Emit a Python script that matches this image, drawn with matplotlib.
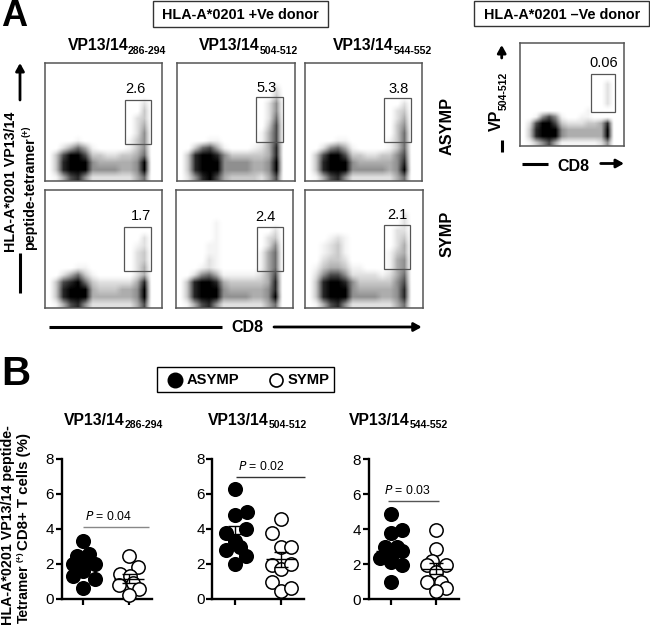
import matplotlib
matplotlib.use('Agg')
import matplotlib.pyplot as plt
import numpy as np
from matplotlib.colors import PowerNorm
from matplotlib.patches import Rectangle

plt.rcParams['font.family'] = ['Liberation Sans', 'DejaVu Sans']

W, H = 650, 628

# flow panels: darkness 0-9, 16 rows x 16 columns
flow_a1 = ["0000000000000000", "0000000000000000", "0000000000000000", "0000000000000000",
           "0000000000000000", "0000000000000200", "0000000000000300", "0000000000002300",
           "0000000000002400", "0000000000002500", "0000100000013500", "0024641000013500",
           "0379973322334600", "0389995444445900", "0389995555445900", "0147852222224600"]
flow_a2 = ["0000000000000000", "0000000000000000", "0000000000000000", "0000000000000200",
           "0000000000000300", "0000000000002500", "0000000000002500", "0000000000002600",
           "0000000000003700", "0000000000014700", "0000110000014700", "0036741000124800",
           "0389985333334800", "0389995555445900", "0389995555445900", "0258974333324700"]
flow_a3 = ["0000000000000000", "0000000000000000", "0000000000000000", "0000000000000000",
           "0000000000000000", "0000000000000200", "0000000000002300", "0000000000002400",
           "0000000000003500", "0000000000003600", "0000110000013600", "0025641000013600",
           "0379973322335700", "0389995444445800", "0389995555545900", "0147852222224600"]
flow_s1 = ["0000000000000000", "0000000000000000", "0000000000000000", "0000000000000000",
           "0000000000000000", "0000000000000000", "0000000000000200", "0000000000001200",
           "0000000000002300", "0000000000002300", "0000110000002400", "0024631000002400",
           "0378963222224800", "0389994333445900", "0389994444445900", "0147852222224700"]
flow_s2 = ["0000000000000000", "0000000000000000", "0000000000000000", "0000000000000000",
           "0000010000000000", "0000010000000200", "0000010000002300", "0000110000002500",
           "0000110000014600", "0000210000014600", "0001210000014600", "0025641111124700",
           "0389984333334800", "0389995444445800", "0389995555445900", "0147852222224600"]
flow_s3 = ["0000000000000000", "0000000000000000", "0000000000000000", "0000000000000200",
           "0000000000000200", "0000000000002200", "0001210000002300", "0012310000002400",
           "0012310000013400", "0023320000014500", "0134431100014500", "0257752222124600",
           "0389985333335700", "0389995444445800", "0389995555445800", "0147852222224600"]
flow_neg = ["0000000000000000", "0000000000000000", "0000000000000000", "0000000000000000",
            "0000000000000000", "0000000000000000", "0000000000000200", "0000000000000200",
            "0000000000000200", "0000000000000200", "0000000000100000", "0015751001100000",
            "0279973222334800", "0389995444444900", "0389995444444900", "0135741111112500"]

flow_titles = ['286-294', '504-512', '544-552']
flow_values = ['2.6', '5.3', '3.8', '1.7', '2.4', '2.1', '0.06']
row_labels = ['ASYMP', 'SYMP']

# panel B, x offset from the group tick and % value
asymp_x = [[0, -.13, .13, -.23, 0, .25, 0, -.22, .25, 0],
           [.01, 0, .25, .24, -.2, .01, .11, .24, -.2, .01],
           [0, .24, 0, -.13, .13, .24, -.24, 0, 0, .24, 0]]
asymp_y = [[3.27, 2.43, 2.58, 1.99, 2.0, 2.0, 1.6, 1.3, 1.1, .6],
           [6.26, 4.78, 4.98, 3.98, 3.77, 3.29, 2.97, 2.43, 2.78, 1.97],
           [4.9, 3.98, 3.79, 3.0, 3.0, 2.76, 2.38, 2.44, 2.11, 1.96, 1.01]]
symp_x = [[0, .2, -.2, .02, -.22, .09, .22, -.01],
          [.01, -.2, .01, .21, -.2, .01, .21, -.2, .01, .21],
          [0, 0, -.1, -.21, .21, 0, -.21, .1, .21, -.01]]
symp_y = [[2.45, 1.78, 1.4, 1.3, .8, .9, .52, .19],
          [4.56, 3.75, 2.97, 2.97, 1.91, 1.72, 1.95, .96, .44, .63],
          [3.98, 2.9, 2.19, 1.98, 1.98, 1.54, .99, .99, .65, .48]]
asymp_mean = [2.0, 3.7, 2.75]
asymp_sem = [.25, .48, .3]
symp_mean = [1.13, 2.25, 1.75]
symp_sem = [.25, .42, .3]
p_values = ['0.04', '0.02', '0.03']
yticks = [0, 2, 4, 6, 8]


def axes_px(fig, x0, y0, x1, y1, **kw):
    # axes from pixel box, y counted from the top
    return fig.add_axes([x0 / W, 1 - y1 / H, (x1 - x0) / W, (y1 - y0) / H], **kw)


def flow_panel(fig, box, rows):
    ax = axes_px(fig, *box)
    grid = np.array([[int(c) for c in r] for r in rows])
    ax.imshow(grid, cmap='gray_r', norm=PowerNorm(1.4, vmin=0, vmax=9), aspect='auto', interpolation='bilinear')
    ax.set_xticks([])
    ax.set_yticks([])
    for s in ax.spines.values():
        s.set_color('#555555')
        s.set_linewidth(1.1)
    return ax


fig = plt.figure(figsize=(W / 100, H / 100), dpi=100)

# overlay in pixels for the labels, boxes and arrows
ov = fig.add_axes([0, 0, 1, 1], zorder=5)
ov.set_xlim(0, W)
ov.set_ylim(H, 0)
ov.axis('off')
ov.patch.set_alpha(0)


def box(x0, y0, x1, y1, color='#333333', lw=1.0):
    ov.add_patch(Rectangle((x0, y0), x1 - x0, y1 - y0, fill=False, ec=color, lw=lw))


def line(x0, y0, x1, y1, lw=2.2, color='black'):
    ov.plot([x0, x1], [y0, y1], color=color, lw=lw, solid_capstyle='butt')


def arrow(x0, y0, x1, y1, lw=2.0):
    ov.annotate('', xy=(x1, y1), xytext=(x0, y0),
                arrowprops=dict(arrowstyle='-|>,head_width=0.25,head_length=0.45', color='black',
                                lw=lw, shrinkA=0, shrinkB=0))


def title(x, y, sub):
    ov.text(x, y, 'VP13/14', fontsize=11.3, fontweight='bold', va='center', ha='left')
    ov.text(x + 60, y + 5, sub, fontsize=7.6, fontweight='bold', va='center', ha='left')


def vtext(x, y, s, size, bold=True):
    ov.text(x, y, s, fontsize=size, fontweight='bold' if bold else 'normal', rotation=90, ha='center', va='center')


# panel A
flow_boxes = [(44.5, 63, 162, 181), (176.5, 63, 294.5, 181), (304.5, 63, 422, 181),
              (44.7, 190, 162, 307.7), (175.7, 190, 293, 307.7), (305, 190, 422.7, 307.7),
              (519.7, 42.7, 623.7, 146)]
flow_rows = [flow_a1, flow_a2, flow_a3, flow_s1, flow_s2, flow_s3, flow_neg]
for b, rows in zip(flow_boxes, flow_rows):
    flow_panel(fig, b, rows)

gates = [(124.7, 99.7, 151.3, 144.3), (256, 97.3, 283, 142), (384.3, 98, 411.3, 142.3),
         (124.3, 226.7, 151.3, 271), (256.7, 227.3, 283.3, 271.3), (383.7, 225.3, 410.3, 269.3),
         (591.3, 73.7, 614.7, 112.3)]
for g in gates:
    box(*g, color='#555555', lw=0.9)

value_pos = [(135, 89.3), (266.7, 88.3), (398.3, 89.3), (141.3, 216), (265, 217.3), (397.7, 215), (603.3, 62.7)]
for (x, y), v in zip(value_pos, flow_values):
    ov.text(x, y, v, fontsize=10.5, ha='center', va='center')

ov.text(1, 16, 'A', fontsize=26, fontweight='bold', va='center', ha='left')
ov.text(1, 374, 'B', fontsize=29, fontweight='bold', va='center', ha='left')

box(152.7, 0.5, 328.3, 26.7)
box(474, 0.5, 649, 26)
ov.text(240.5, 15, 'HLA-A*0201 +Ve donor', fontsize=10.4, fontweight='bold', ha='center', va='center')
ov.text(561.7, 15, 'HLA-A*0201 –Ve donor', fontsize=10.4, fontweight='bold', ha='center', va='center')

for x, sub in zip([67.7, 199.3, 333.3], flow_titles):
    title(x, 45.5, sub)

vtext(11, 181.5, 'HLA-A*0201 VP13/14', 10.3)
vtext(30, 194, 'peptide-tetramer', 10.3)
vtext(26, 131, '(+)', 6.5)
arrow(20, 100, 20, 63)
line(20, 253, 20, 293)

vtext(447, 126, row_labels[0], 11.7)
vtext(447, 234, row_labels[1], 11.7)

ov.text(247, 328, 'CD8', fontsize=11.5, fontweight='bold', ha='center', va='center')
line(49, 327, 221.7, 327)
arrow(274, 327, 421.7, 327)

ov.text(573, 166.7, 'CD8', fontsize=11.5, fontweight='bold', ha='center', va='center')
line(521.7, 163.5, 548, 163.5)
arrow(600.7, 163.5, 624, 163.5)
vtext(496.5, 120, 'VP', 11.5)
vtext(503.5, 90.5, '504-512', 7.6)
arrow(501.7, 58, 501.7, 45)
line(501.7, 140, 501.7, 152)

# panel B
box(157.3, 366.7, 334.3, 391.7, color='black', lw=1.0)
ov.scatter([175], [379.5], s=110, color='black', zorder=6)
ov.scatter([276], [379.5], s=88, facecolor='white', edgecolor='black', linewidth=1.2, zorder=6)
ov.text(186.7, 380, row_labels[0], fontsize=10.6, fontweight='bold', va='center', ha='left')
ov.text(288, 380, row_labels[1], fontsize=10.6, fontweight='bold', va='center', ha='left')

for x, sub in zip([64.3, 208.3, 349.3], flow_titles):
    title(x, 420.5, sub)

vtext(8, 525, 'HLA-A*0201 VP13/14 peptide-', 10.3)
vtext(24, 594, 'Tetramer', 10)
vtext(20, 557, '(+)', 6)
vtext(24, 492, 'CD8+ T cells (%)', 10.8)

swarm_boxes = [(61.7, 459, 151.7, 598.5), (212.3, 459, 304, 598.5), (368.7, 459.3, 459, 599.3)]
tick_px = [(83.3, 129), (235, 281), (391, 436.3)]
p_pos = [(108, 516, 83.3, 149, 526.7, '#888888'), (261.7, 466.7, 236, 305, 477, '#333333'),
         (407, 491, 388, 439, 501.3, '#555555')]

for i, b in enumerate(swarm_boxes):
    ax = axes_px(fig, *b)
    t0, t1 = tick_px[i]
    step = t1 - t0
    ax.set_xlim(1 + (b[0] - t0) / step, 1 + (b[2] - t0) / step)
    ax.set_ylim(0, 8)
    ax.scatter(1 + np.array(asymp_x[i]), asymp_y[i], s=118, color='black', linewidth=0, clip_on=False, zorder=3)
    ax.scatter(2 + np.array(symp_x[i]), symp_y[i], s=92, facecolor='white', edgecolor='black',
               linewidth=1.1, clip_on=False, zorder=3)
    ax.errorbar([1, 2], [asymp_mean[i], symp_mean[i]], yerr=[asymp_sem[i], symp_sem[i]], fmt='none',
                ecolor='black', elinewidth=1, capsize=5, capthick=1, zorder=4)
    ax.hlines([asymp_mean[i], symp_mean[i]], [.67, 1.67], [1.33, 2.33], color='black', lw=1, zorder=4)
    ax.set_xticks([1, 2])
    ax.set_xticklabels([])
    ax.set_yticks(yticks)
    ax.tick_params(axis='both', width=1.6, length=4.5, labelsize=11, pad=1)
    for s in ['top', 'right']:
        ax.spines[s].set_visible(False)
    for s in ['left', 'bottom']:
        ax.spines[s].set_linewidth(1.7)
    px, py, lx0, lx1, ly, lc = p_pos[i]
    ov.text(px, py, '$\\mathit{P}$ = ' + p_values[i], fontsize=8.8, ha='center', va='center')
    line(lx0, ly, lx1, ly, lw=1.0, color=lc)

fig.savefig('out.png', dpi=100)
